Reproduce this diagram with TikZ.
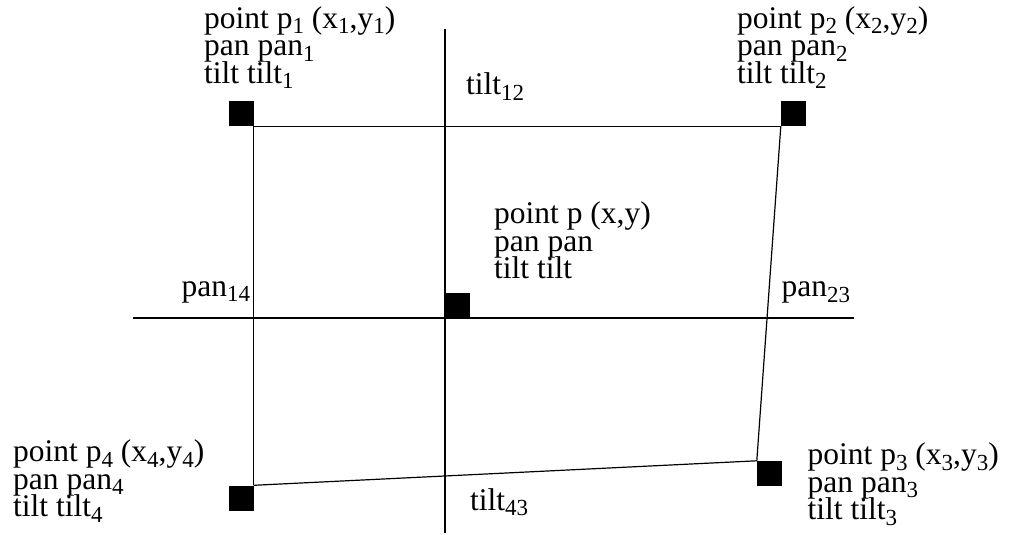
\documentclass[tikz,border=0pt]{standalone}
\usepackage{fontspec}
\setmainfont{Liberation Serif}
\newcommand{\sbs}[1]{\raisebox{-5.5bp}{\fontsize{23bp}{23bp}\selectfont #1}}
\newcommand{\lbl}[3]{\vtop{\baselineskip=27.5bp\lineskiplimit=-100bp\hbox{#1}\hbox{#2}\hbox{#3}}}
\tikzset{
  sq/.style={fill=black,draw=none,inner sep=0pt,minimum size=25bp,rectangle},
  txt/.style={anchor=base west,inner sep=0pt,font=\fontsize{31.5bp}{27.5bp}\selectfont},
  ln/.style={draw=black,line width=1.2bp}
}
\begin{document}
\begin{tikzpicture}[x=1bp,y=-1bp]
\useasboundingbox (0,0) rectangle (1015,535);
% squares
\node[sq] (p1) at (241,113.5) {};
\node[sq] (p2) at (793.5,113.5) {};
\node[sq] (p) at (457.5,305.5) {};
\node[sq] (p4) at (241,498) {};
\node[sq] (p3) at (769.5,473.5) {};
% cross lines
\coordinate (vt) at (445,29);
\coordinate (vb) at (445,533);
\coordinate (hl) at (133,318);
\coordinate (hr) at (854,318);
\draw[ln] (vt) -- (vb);
\draw[ln] (hl) -- (hr);
% quadrilateral
\draw[ln] (p1.south east) -- (p2.south west);
\draw[ln] (p1.south east) -- (p4.north east);
\draw[ln] (p2.south west) -- (p3.north west);
\draw[ln] (p4.north east) -- (p3.north west);
% labels
\node[txt] (l1) at (204,28.5) {\lbl{point p\sbs{1} (x\sbs{1},y\sbs{1})}{pan pan\sbs{1}}{tilt tilt\sbs{1}}};
\node[txt] (l2) at (737,28.5) {\lbl{point p\sbs{2} (x\sbs{2},y\sbs{2})}{pan pan\sbs{2}}{tilt tilt\sbs{2}}};
\node[txt] (l) at (494,224) {\lbl{point p (x,y)}{pan pan}{tilt tilt}};
\node[txt] (l4) at (13,461.5) {\lbl{point p\sbs{4} (x\sbs{4},y\sbs{4})}{pan pan\sbs{4}}{tilt tilt\sbs{4}}};
\node[txt] (l3) at (807.5,464.5) {\lbl{point p\sbs{3} (x\sbs{3},y\sbs{3})}{pan pan\sbs{3}}{tilt tilt\sbs{3}}};
\node[txt] (t12) at (466,95) {tilt\sbs{12}};
\node[txt] (p14) at (181.5,296.5) {pan\sbs{14}};
\node[txt] (p23) at (781.5,297) {pan\sbs{23}};
\node[txt] (t43) at (470,510) {tilt\sbs{43}};
\end{tikzpicture}
\end{document}
